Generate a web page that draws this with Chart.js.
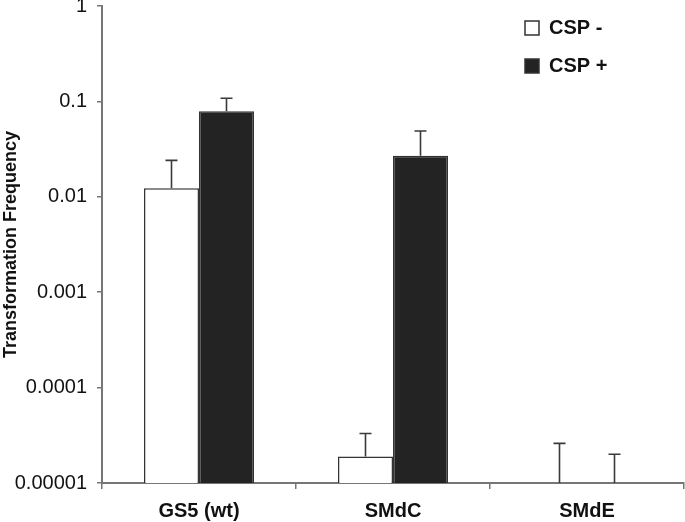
<!DOCTYPE html>
<html>
<head>
<meta charset="utf-8">
<script src="https://cdn.jsdelivr.net/npm/chart.js@4/dist/chart.umd.min.js"></script>
<style>
  html, body { margin: 0; padding: 0; background: #fff; }
  canvas { display: block; }
</style>
</head>
<body>
<canvas id="c" width="685" height="522"></canvas>
<script>
  const categories = ["GS5 (wt)", "SMdC", "SMdE"];
  const cspMinus = [0.0123, 0.000019, 0.00001];      // SMdE sits at the detection floor
  const cspPlus = [0.079, 0.027, 0.00001];
  const cspMinusErrTop = [0.0241, 0.000033, 0.000026];
  const cspPlusErrTop = [0.108, 0.049, 0.00002];
  const yTickValues = [1, 0.1, 0.01, 0.001, 0.0001, 0.00001];
  const yTickLabels = ["1", "0.1", "0.01", "0.001", "0.0001", "0.00001"];

  const FONT = "'Liberation Sans', Arial, Helvetica, sans-serif";
  const AXIS = "#767676";

  // draws the upper error whisker above each bar
  const errorBars = {
    id: "errorBars",
    afterDatasetsDraw(chart){
      const ctx = chart.ctx;
      const y = chart.scales.y;
      const tops = [cspMinusErrTop, cspPlusErrTop];
      ctx.save();
      ctx.strokeStyle = "#3a3a3a";
      ctx.lineWidth = 1.6;
      chart.data.datasets.forEach((ds, di) => {
        const meta = chart.getDatasetMeta(di);
        meta.data.forEach((bar, i) => {
          const top = tops[di][i];
          if(top == null) return;
          const yTop = y.getPixelForValue(top);
          const yStart = bar.y;
          ctx.beginPath();
          ctx.moveTo(bar.x, yStart);
          ctx.lineTo(bar.x, yTop);
          ctx.moveTo(bar.x - 6, yTop);
          ctx.lineTo(bar.x + 6, yTop);
          ctx.stroke();
        });
      });
      ctx.restore();
    }
  };

  // puts the stacked legend in the upper right corner of the plot
  const legendSpot = {
    id: "legendSpot",
    afterLayout(chart){
      const lg = chart.legend;
      if(!lg) return;
      lg.left = chart.chartArea.right - 177;
      lg.right = chart.width;
      lg.top = 0;
      lg.bottom = 200;
    }
  };

  new Chart(document.getElementById("c"), {
    type: "bar",
    data: {
      labels: categories,
      datasets: [
        {
          label: "CSP -",
          data: cspMinus,
          backgroundColor: "#ffffff",
          borderColor: "#333333",
          borderWidth: 1.5,
          categoryPercentage: 0.567,
          barPercentage: 1.0
        },
        {
          label: "CSP +",
          data: cspPlus,
          backgroundColor: "#232323",
          borderColor: "#333333",
          borderWidth: 1.5,
          categoryPercentage: 0.567,
          barPercentage: 1.0
        }
      ]
    },
    options: {
      responsive: false,
      animation: false,
      devicePixelRatio: 1,
      layout: { padding: { top: 6, right: 1, left: 0, bottom: 0 } },
      plugins: {
        legend: {
          position: "chartArea",
          align: "start",
          labels: {
            boxWidth: 14,
            boxHeight: 14,
            padding: 18,
            color: "#111",
            font: { family: FONT, size: 20, weight: "bold" }
          }
        },
        tooltip: { enabled: false }
      },
      scales: {
        x: {
          grid: {
            display: true,
            offset: true,
            drawOnChartArea: false,
            tickLength: 6,
            color: AXIS,
            lineWidth: 1.5
          },
          border: { color: AXIS, width: 2 },
          ticks: {
            color: "#111",
            padding: 10,
            font: { family: FONT, size: 20, weight: "bold" }
          },
          afterFit(s){ s.height = 39; }
        },
        y: {
          type: "logarithmic",
          min: 0.00001,
          max: 1,
          afterBuildTicks(s){
            s.ticks = yTickValues.map(v => ({ value: v, major: true }));
          },
          afterFit(s){
            s.width = 102;
            s.paddingTop = 0;
            s.paddingBottom = 0;
          },
          grid: {
            display: true,
            drawOnChartArea: false,
            tickLength: 5,
            color: AXIS,
            lineWidth: 1.5
          },
          border: { color: AXIS, width: 2 },
          ticks: {
            color: "#111",
            padding: 10,
            autoSkip: false,
            font: { family: FONT, size: 20 },
            callback: (v) => {
              const k = yTickValues.findIndex(t => Math.abs(t - v) / t < 1e-6);
              return k >= 0 ? yTickLabels[k] : "";
            }
          },
          title: {
            display: true,
            text: "Transformation Frequency",
            color: "#111",
            padding: 0,
            font: { family: FONT, size: 18, weight: "bold" }
          }
        }
      }
    },
    plugins: [errorBars, legendSpot]
  });
</script>
</body>
</html>
